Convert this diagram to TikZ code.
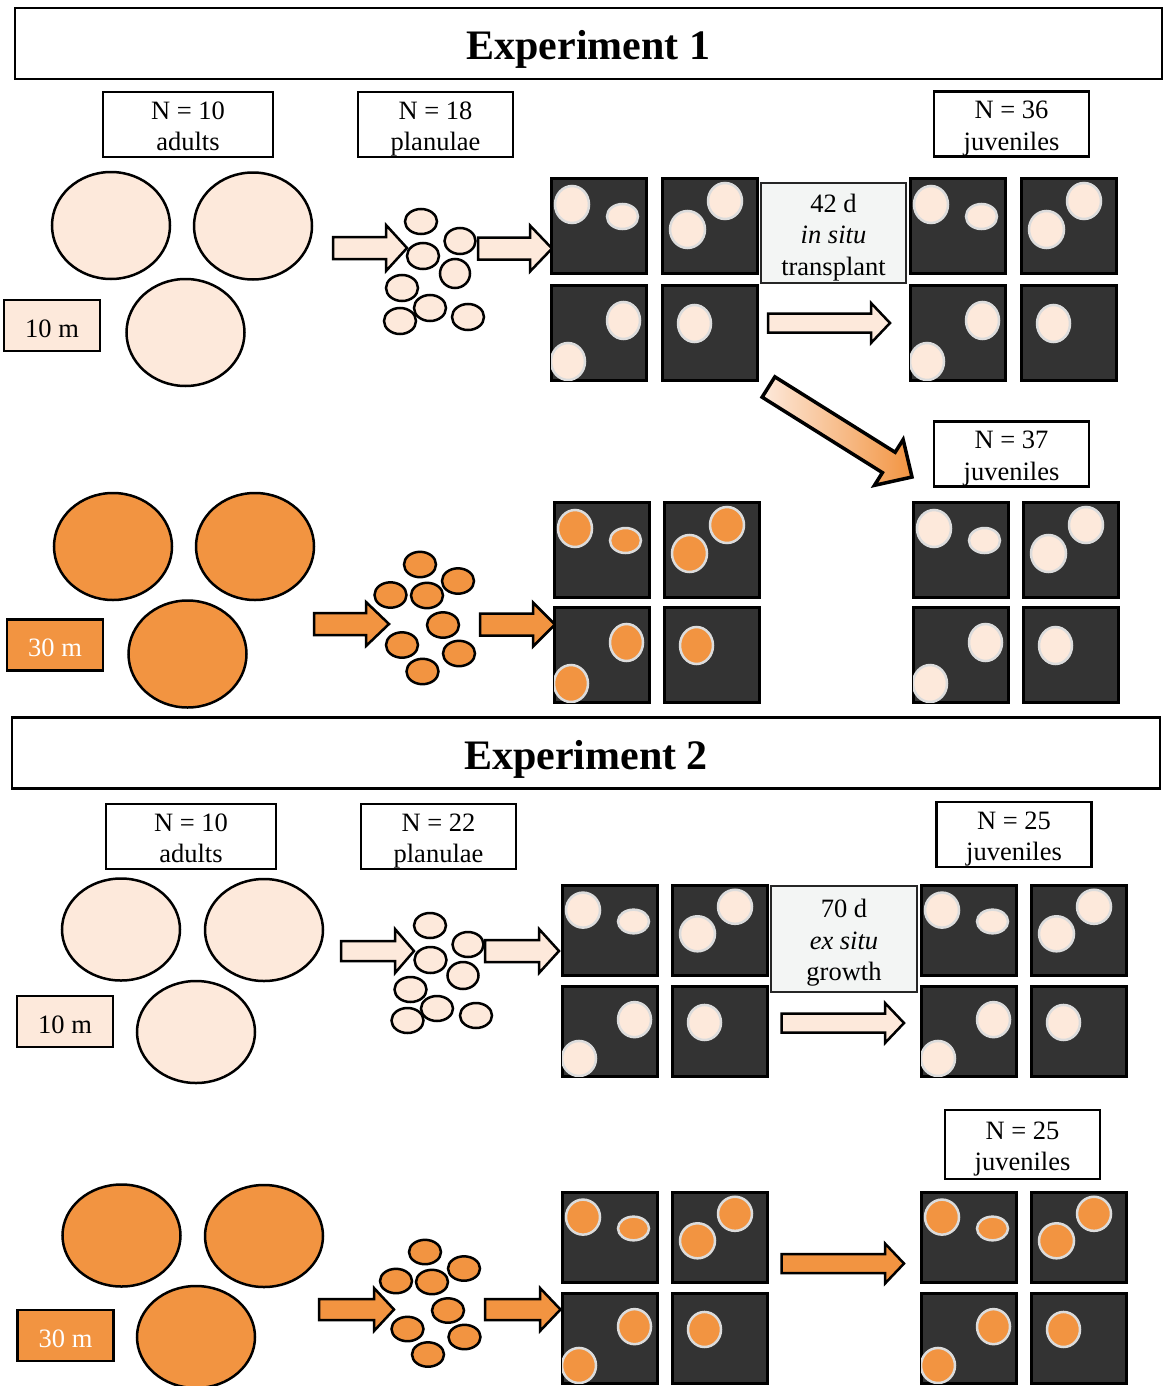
\documentclass[tikz,border=0pt]{standalone}
\usepackage{fontspec}
\setmainfont{Liberation Serif}
\usetikzlibrary{shapes.geometric}
\definecolor{peach}{HTML}{FDE9DB}
\definecolor{coral}{HTML}{F29441}
\definecolor{tankfill}{HTML}{333333}
\definecolor{dotrim}{HTML}{DCDCDC}
\definecolor{boxgray}{HTML}{F3F5F4}
\tikzset{
  every node/.style={font=\fontsize{26.5}{31.5}\selectfont},
  header/.style={draw=black, line width=2.5, fill=white, minimum height=71, inner sep=0,
    font=\fontsize{42}{50}\selectfont\bfseries, text height=33, text depth=0},
  lab/.style={draw=black, line width=2.5, fill=white, minimum height=65, inner sep=0,
    align=center, text height=52.5, text depth=0},
  dbox/.style={draw=black, line width=2.5, minimum width=96, minimum height=51, inner sep=0,
    text height=23, text depth=0},
  adult/.style={ellipse, draw=black, line width=2.5, minimum width=118, inner sep=0},
  tank/.style={draw=black, line width=3, fill=tankfill, minimum width=95, inner sep=0, outer sep=0},
  ldot/.style={fill=peach, draw=dotrim, line width=2.5},
  odot/.style={fill=coral, draw=dotrim, line width=2.5},
  plan/.style={draw=black, line width=2.5},
  barr/.style={draw=black, line width=2.5, line join=miter},
}
% one tank: #1 name, #2 x, #3 y (top-left), #4 height, #5 dot style, #6 pattern
\newcommand{\tanksq}[6]{%
  \node[tank, minimum height=#4] (#1) at ({#2+47.5},{#3+#4/2}) {};
  \begin{scope}
    \clip (#1.south west) rectangle (#1.north east);
    \begin{scope}[shift={(#2,#3)}, yscale={#4/95}]
      \ifcase#6\or
        \draw[#5] (21,26.5) ellipse [x radius=17, y radius=18.5];
        \draw[#5] (71.5,38.5) ellipse [x radius=15.5, y radius=12.5];
      \or
        \draw[#5] (63,23) ellipse [x radius=17, y radius=18];
        \draw[#5] (25.5,51.5) ellipse [x radius=17.5, y radius=18.5];
      \or
        \draw[#5] (72.5,35.5) ellipse [x radius=16.5, y radius=18.5];
        \draw[#5] (17,76.5) ellipse [x radius=17, y radius=18.5];
      \or
        \draw[#5] (32.5,38.5) ellipse [x radius=16.5, y radius=18.5];
      \fi
    \end{scope}
  \end{scope}}
% group of four tanks: #1 prefix, #2 x0, #3 y0, #4 dx, #5 dy, #6 height, #7 dot style
\newcommand{\tankgroup}[7]{%
  \tanksq{#1-1}{#2}{#3}{#6}{#7}{1}%
  \tanksq{#1-2}{#2+#4}{#3}{#6}{#7}{2}%
  \tanksq{#1-3}{#2}{#3+#5}{#6}{#7}{3}%
  \tanksq{#1-4}{#2+#4}{#3+#5}{#6}{#7}{4}}
% block arrow: #1 style, #2 tail x, #3 tip x, #4 y, #5 shaft half, #6 head half, #7 head length
\newcommand{\blockarr}[7]{%
  \draw[barr, #1] (#2,#4-#5) -- (#3-#7,#4-#5) -- (#3-#7,#4-#6) -- (#3,#4)
    -- (#3-#7,#4+#6) -- (#3-#7,#4+#5) -- (#2,#4+#5) -- cycle;}
\begin{document}
\begin{tikzpicture}[x=1pt, y=-1pt]
\useasboundingbox (0,0) rectangle (1166,1386);

% ================= Experiment 1 =================
\node[header, minimum width=1147] (exp1) at (588.5,43.5) {Experiment 1};

\node[lab, minimum width=170] (nadult1) at (188,124.5) {N = 10\\adults};
\node[lab, minimum width=155] (nplan1) at (435.5,124.5) {N = 18\\planulae};
\node[lab, minimum width=155] (njuv1) at (1011.5,124) {N = 36\\juveniles};
\node[lab, minimum width=155] (njuv2) at (1011.5,454) {N = 37\\juveniles};

% 10 m adults
\node[adult, fill=peach, minimum height=107] (a1) at (111,225.5) {};
\node[adult, fill=peach, minimum height=107] (a2) at (253,226) {};
\node[adult, fill=peach, minimum height=107] (a3) at (185.5,332.5) {};
\node[dbox, fill=peach] (d1) at (52,325.5) {10 m};

\blockarr{fill=peach}{333}{407}{248}{11}{23}{21}
\foreach \px/\py/\rx/\ry in {421/221.5/16/12.5, 460/241/15.5/13, 423/256/16/13, 455/273.5/15/14.5,
  402/288/16/13, 430/308/16/13, 400/321/16/13, 468/317/16/13}
  \draw[plan, fill=peach] (\px,\py) ellipse [x radius=\rx, y radius=\ry];
\blockarr{fill=peach}{478}{552}{248.5}{11}{23}{22}

\tankgroup{e1l}{551}{178}{111}{107}{95}{ldot}
\tankgroup{e1r}{910}{178}{111}{107}{95}{ldot}
\node[lab, minimum width=145, minimum height=100, fill=boxgray, draw=black!85, text height=84] (insitu)
  at (833.5,233) {42 d\\\textit{in situ}\\transplant};
\blockarr{fill=peach}{768}{890}{323}{9.5}{20}{19}

% 30 m adults
\node[adult, fill=coral, minimum height=107] (a4) at (113,546.5) {};
\node[adult, fill=coral, minimum height=107] (a5) at (255,546.5) {};
\node[adult, fill=coral, minimum height=107] (a6) at (187.5,654) {};
\node[dbox, fill=coral, text=white] (d2) at (55,645) {30 m};

\blockarr{fill=coral}{314}{389}{624}{11}{22}{23}
\foreach \px/\py in {420/564.5, 458/581, 390.5/595, 427/595.5, 443/625, 402/645, 459/653.5, 422.5/671.5}
  \draw[plan, fill=coral] (\px,\py) ellipse [x radius=16, y radius=12.7];
\blockarr{fill=coral}{480}{555}{624.5}{11}{22}{22}

\tankgroup{e1ol}{554}{502}{110}{105}{95}{odot}
\tankgroup{e1or}{913}{502}{110}{105}{95}{ldot}

% diagonal transplant arrow
\begin{scope}[shift={(768.5,387)}, rotate=-32.1]
  \shade[left color=peach, right color=coral, draw=black, line width=3.5, line join=miter]
    (0,-12) -- (142,-12) -- (142,-27) -- (169.4,0) -- (142,27) -- (142,12) -- (0,12) -- cycle;
\end{scope}

% ================= Experiment 2 =================
\node[header, minimum width=1148] (exp2) at (586,753) {Experiment 2};

\node[lab, minimum width=170] (nadult2) at (191,836.5) {N = 10\\adults};
\node[lab, minimum width=155] (nplan2) at (438.5,836.5) {N = 22\\planulae};
\node[lab, minimum width=155] (njuv3) at (1014,834.5) {N = 25\\juveniles};
\node[lab, minimum width=155, minimum height=69] (njuv4) at (1022.5,1144.5) {N = 25\\juveniles};

% 10 m adults
\node[adult, fill=peach, minimum height=102] (b1) at (121,929.5) {};
\node[adult, fill=peach, minimum height=102] (b2) at (264,930) {};
\node[adult, fill=peach, minimum height=102] (b3) at (196,1032) {};
\node[dbox, fill=peach] (d3) at (65,1021.5) {10 m};

\blockarr{fill=peach}{341}{414}{951}{10}{22}{19}
\foreach \px/\py/\rx/\ry in {430/925.5/16/12.5, 468/944.5/15.5/12.5, 430.5/960/16/13, 463/975.5/15.5/13.5,
  410.5/989.5/16/12.5, 437/1008.5/16/12.5, 407.5/1020.5/16/12.5, 476/1015.5/16/12.5}
  \draw[plan, fill=peach] (\px,\py) ellipse [x radius=\rx, y radius=\ry];
\blockarr{fill=peach}{485}{559}{951}{11}{22}{20}

\tankgroup{e2l}{562}{885}{110}{101}{90}{ldot}
\tankgroup{e2r}{921}{885}{110}{101}{90}{ldot}
\node[lab, minimum width=146, minimum height=106, fill=boxgray, draw=black!85, text height=83] (exsitu)
  at (844,939) {70 d\\\textit{ex situ}\\growth};
\blockarr{fill=peach}{781.5}{904}{1023}{9.5}{20}{19}

% 30 m adults
\node[adult, fill=coral, minimum height=102] (b4) at (121.5,1235.5) {};
\node[adult, fill=coral, minimum height=102] (b5) at (264,1236) {};
\node[adult, fill=coral, minimum height=102] (b6) at (196,1337) {};
\node[dbox, fill=coral, text=white] (d4) at (65.5,1335.5) {30 m};

\blockarr{fill=coral}{319}{394}{1309.5}{10.5}{21.5}{20}
\foreach \px/\py in {425/1252, 464/1268.5, 396/1281, 432/1282, 448/1310.5, 407.5/1329, 464.5/1337, 428/1354.5}
  \draw[plan, fill=coral] (\px,\py) ellipse [x radius=16, y radius=12.2];
\blockarr{fill=coral}{485}{560.5}{1309.5}{10.5}{21.5}{20.5}

\tankgroup{e2ol}{562}{1192}{110}{101}{90}{odot}
\tankgroup{e2or}{921}{1192}{110}{101}{90}{odot}
\blockarr{fill=coral}{781.5}{904}{1263.5}{9.5}{20}{19}
\end{tikzpicture}
\end{document}
